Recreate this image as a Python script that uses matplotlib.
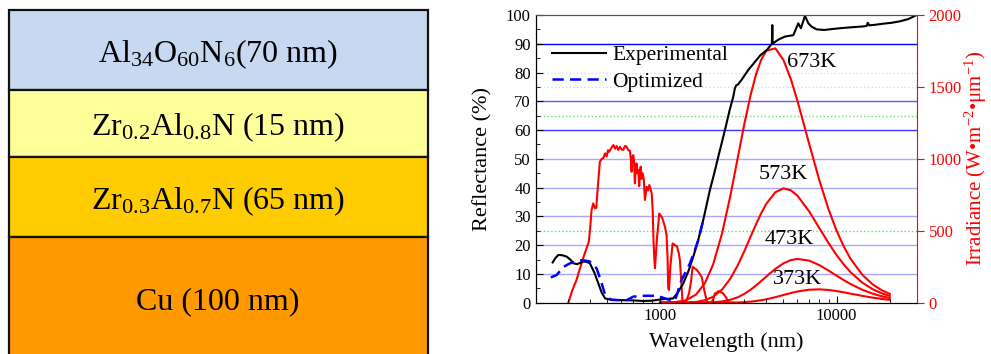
import matplotlib
matplotlib.use("Agg")
import matplotlib.pyplot as plt
from matplotlib.patches import Rectangle

plt.rcParams['font.family'] = ['Liberation Serif', 'DejaVu Serif']
plt.rcParams['mathtext.fontset'] = 'custom'
plt.rcParams['mathtext.rm'] = 'Liberation Serif'
plt.rcParams['mathtext.it'] = 'Liberation Serif:italic'

# film stack, top to bottom
layer_labels = [r'Al$_{34}$O$_{60}$N$_{6}$(70 nm)',
                r'Zr$_{0.2}$Al$_{0.8}$N (15 nm)',
                r'Zr$_{0.3}$Al$_{0.7}$N (65 nm)',
                'Cu (100 nm)']
layer_colors = ['#c6d9f0', '#ffff99', '#ffcc00', '#ff9900']

# measured and optimized reflectance (%)
exp_wl = [247, 256, 266, 280, 297, 313, 323, 340, 368, 385, 401, 425, 448, 468, 489,
          520, 594, 700, 805, 900, 1000, 1070, 1140, 1189, 1260, 1355, 1450, 1545,
          1650, 1758, 1918, 2030, 2138, 2333, 2470, 2600, 2655, 2700, 2760, 2900,
          3162, 3375, 3700, 4018, 4250, 4300, 4325, 4345, 4400, 4700, 5100, 5690,
          6065, 6280, 6620, 6920, 7200, 7710, 8500, 10440, 12500, 14000, 14800,
          15000, 15300, 16500, 18500, 20500, 22800, 25500, 28400]
exp_R = [14.0, 15.5, 16.6, 16.5, 16.0, 14.8, 13.7, 13.4, 14.3, 14.2, 13.7, 10.5, 6.7,
         3.5, 1.5, 1.1, 0.9, 0.8, 0.6, 0.7, 1.1, 1.3, 1.4, 1.5, 3.5, 6.7, 11.0, 16.0,
         22.0, 28.7, 39.2, 45.0, 50.7, 60.0, 66.5, 71.6, 74.5, 75.5, 75.8, 77.5,
         80.9, 83.0, 86.0, 87.8, 89.6, 90.0, 96.5, 90.0, 90.3, 91.5, 92.5, 93.0,
         97.1, 95.4, 99.7, 97.1, 96.0, 95.0, 94.8, 95.4, 95.8, 96.0, 96.2, 97.3,
         96.4, 96.6, 97.0, 97.3, 97.8, 98.6, 100.0]

opt_wl = [241, 260, 285, 310, 352, 380, 401, 425, 438, 452, 468, 485, 499, 530, 569,
          648, 706, 738, 805, 937, 978, 1044, 1100, 1139, 1175, 1216, 1260, 1297,
          1380, 1446, 1479, 1560, 1649, 1758]
opt_R = [8.8, 9.6, 12.5, 13.7, 14.8, 14.6, 14.3, 12.8, 11.9, 9.5, 6.7, 3.5, 2.1,
         1.0, 0.9, 0.9, 2.1, 2.2, 2.4, 2.4, 2.3, 1.7, 1.2, 0.9, 0.4, 0.9, 3.5, 6.7,
         10.0, 12.5, 13.7, 17.5, 21.8, 28.7]

# AM1.5 solar irradiance (W m-2 um-1)
sun_wl = [303, 320, 337, 355, 370, 384, 395, 402, 410, 419, 429, 436, 448, 457,
          468, 478, 489, 499, 508, 516, 530, 545, 557, 568, 580, 594, 607, 620,
          634, 648, 662, 676, 684, 691, 698, 706, 714, 721, 729, 737, 746, 754,
          763, 770, 778, 787, 798, 810, 822, 831, 841, 856, 871, 885, 898, 910,
          920, 930, 937, 948, 960, 991, 1030, 1067, 1090, 1105, 1114, 1125, 1145,
          1180, 1215, 1250, 1280, 1297, 1320, 1343, 1380, 1415, 1460, 1500, 1531,
          1570, 1615, 1670, 1722, 1760, 1798, 1853, 1950, 2000, 2047, 2100, 2140,
          2200, 2282, 2385, 2430, 2600]
sun_irr = [0, 90, 158, 250, 320, 378, 420, 506, 644, 690, 656, 660, 852, 980,
           1000, 1004, 1038, 1016, 1060, 1050, 1075, 1096, 1070, 1090, 1062, 1084,
           1065, 1062, 1090, 1084, 1060, 1056, 1000, 910, 1010, 1026, 980, 830,
           920, 968, 900, 922, 810, 900, 946, 860, 900, 860, 714, 760, 806, 780,
           818, 790, 760, 640, 420, 300, 240, 330, 436, 620, 590, 528, 470, 300,
           100, 88, 250, 412, 400, 390, 340, 296, 150, 0, 0, 18, 64, 150, 250, 240,
           228, 205, 180, 120, 64, 0, 0, 20, 64, 70, 80, 76, 64, 30, 0, 0]

# blackbody emission (W m-2 um-1)
bb_wl = [1000, 1200, 1400, 1600, 1800, 2000, 2250, 2500, 2750, 3000, 3250, 3500,
         3750, 4000, 4500, 5000, 5500, 6000, 7000, 8000, 9000, 10000, 11000, 12000,
         14000, 16000, 18000, 20000]
bb_673 = [0.2, 2.8, 16.2, 56.2, 137.6, 266.3, 484.8, 740.3, 1000.9, 1238.9, 1437,
          1588.9, 1692, 1751.7, 1767.9, 1687.7, 1556.4, 1404.1, 1102.1, 847.8,
          649.5, 500.1, 388.3, 304.5, 193.0, 127.2, 86.9, 61.1]
bb_573 = [0.0, 0.1, 1.1, 5.5, 17.3, 41.2, 92.4, 166.5, 257.6, 356.9, 455.5, 546.3,
          624.3, 687.6, 767.9, 794.6, 781.7, 743.9, 633.8, 517.2, 414.7, 330.6,
          263.9, 211.7, 138.8, 93.8, 65.2, 46.6]
bb_473 = [0.0, 0.0, 0.0, 0.2, 0.9, 2.9, 8.7, 19.9, 37.4, 60.8, 88.9, 119.8, 151.4,
          182.0, 235.3, 273.5, 295.9, 304.2, 292.4, 260.6, 223.4, 187.6, 156.1,
          129.5, 89.4, 62.7, 44.8, 32.7]
bb_373 = [0.0, 0.0, 0.0, 0.0, 0.0, 0.05, 0.23, 0.76, 1.93, 4.01, 7.23, 11.65, 17.2,
          23.7, 38.4, 53.5, 67.0, 77.8, 90.4, 92.7, 88.4, 80.8, 71.9, 62.9, 47.3,
          35.2, 26.3, 19.9]
bb_curves = [bb_673, bb_573, bb_473, bb_373]
bb_labels = ['673K', '573K', '473K', '373K']
label_pos = [(7250, 1673), (4970, 888), (5430, 436), (6050, 158)]

fig = plt.figure(figsize=(9.91, 3.54), dpi=100)

# ---- layer schematic ----
ax0 = fig.add_axes([0, 0, 445 / 991, 1])
ax0.set_xlim(0, 445)
ax0.set_ylim(354, 0)
ax0.axis('off')
edges = [10, 90, 157, 237, 370]
text_shift = [4, 4, 4, 6]
for i, (lab, col) in enumerate(zip(layer_labels, layer_colors)):
    top, bot = edges[i], edges[i + 1]
    ax0.add_patch(Rectangle((9, top), 419, bot - top, facecolor=col,
                            edgecolor='#111111', linewidth=1.6))
    yc = (top + min(bot, 354)) / 2 + text_shift[i]
    ax0.text(218, yc, lab, ha='center', va='center', fontsize=23)

# ---- reflectance / irradiance plot ----
ax = fig.add_axes([535.7 / 991, 1 - 302.7 / 354, 381 / 991, 287.7 / 354])
ax2 = ax.twinx()
ax.set_zorder(ax2.get_zorder() + 1)
ax.patch.set_visible(False)

grid = [(10, '#a8a8ff', '-'), (20, '#a8a8ff', '-'), (30, '#a8a8ff', '-'),
        (40, '#a8a8ff', '-'), (50, '#a8a8ff', '-'), (60, '#3a3aff', '-'),
        (70, '#5a5aff', '-'), (80, '#dcdcff', ':'), (75, '#d8d8d8', ':'),
        (90, '#0000ff', '-'), (25, '#66dd66', ':'), (65, '#66dd66', ':')]
for lv, c, ls in grid:
    ax2.axhline(lv * 20, color=c, ls=ls, lw=1.0, zorder=0)

ax2.plot(sun_wl, sun_irr, color='#ff0000', lw=1.5)
for vals in bb_curves:
    ax2.plot(bb_wl, vals, color='#ff0000', lw=1.5)
for lab, (x, y) in zip(bb_labels, label_pos):
    ax2.text(x, y, lab, ha='center', va='center', fontsize=16)

ax.plot(exp_wl, exp_R, color='black', lw=1.5, label='Experimental')
ax.plot(opt_wl, opt_R, color='#0000ff', lw=1.8, ls=(0, (4.5, 2.5)), label='Optimized')

ax.set_xscale('log')
ax.set_xlim(198, 28400)
ax.set_ylim(0, 100)
ax2.set_ylim(0, 2000)
ax.set_xticks([1000, 10000])
ax.set_xticklabels(['1000', '10000'])
ax.set_yticks(range(0, 101, 10))
ax.set_yticks(range(0, 101, 5), minor=True)
ax2.set_yticks([0, 500, 1000, 1500, 2000])
ax.tick_params(which='both', direction='in', labelsize=12)
ax.tick_params(which='major', length=5)
ax.tick_params(which='minor', length=3)
ax2.tick_params(axis='y', colors='#ff0000', direction='out', length=5, labelsize=12)

ax.set_xlabel('Wavelength (nm)', fontsize=16, labelpad=6)
ax.set_ylabel('Reflectance (%)', fontsize=16, labelpad=10)
ax2.set_ylabel(r'Irradiance (W•m$^{-2}$•μm$^{-1}$)', fontsize=15, color='#ff0000',
               labelpad=1)

ax.spines['top'].set_color('#555555')
ax2.spines['top'].set_color('#555555')
ax2.spines['right'].set_color('#ff0000')
ax.spines['right'].set_visible(False)

ax.legend(loc='upper left', bbox_to_anchor=(0.02, 0.925), frameon=False, fontsize=15.5,
          handlelength=2.5, handletextpad=0.3, labelspacing=0.3, borderaxespad=0)

plt.savefig('out.png', dpi=100)
